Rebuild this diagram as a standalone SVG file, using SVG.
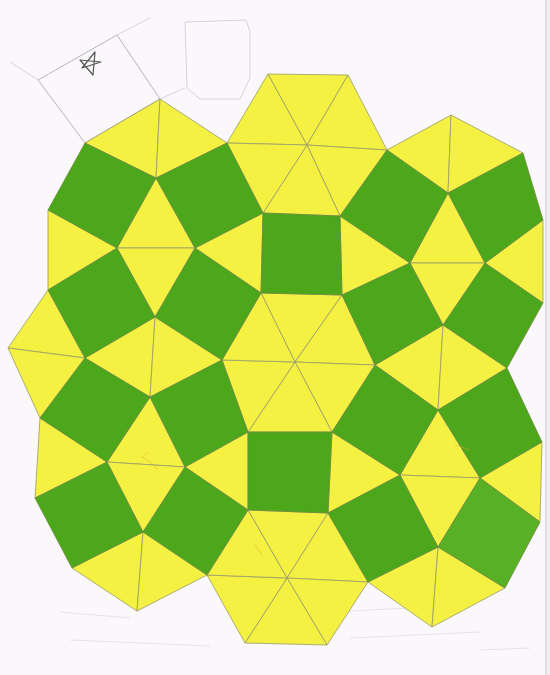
<svg xmlns="http://www.w3.org/2000/svg" width="550" height="675" viewBox="0 0 550 675">
<style>
.y{fill:#f4f142;stroke:#9b9a6a;stroke-width:0.8;stroke-linejoin:round}
.g{fill:#4ca71b;stroke:#6f8a3a;stroke-width:0.8;stroke-linejoin:round}
.g2{fill:#58b024;stroke:#6f8a3a;stroke-width:0.8;stroke-linejoin:round}
.faint{fill:none;stroke:#d6d2e2;stroke-width:1}
.pen{fill:none;stroke:#a4a2b2;stroke-width:0.8}
.orange{fill:none;stroke:#e0a040;stroke-width:0.8;opacity:0.6}
</style>
<rect width="550" height="675" fill="#fbf8fb"/>
<rect x="546" y="0" width="4" height="675" fill="#f1f1f4"/>
<line x1="546" y1="0" x2="546" y2="675" stroke="#c4c6cf" stroke-width="1"/>

<g id="sketch">
<polygon class="pen" points="38,80 117,35 160,99 85,143"/>
<path class="faint" d="M185,22 L246,20 L250,32 L250,78 L240,99 L200,99 L187,88 Z"/>
<path class="faint" d="M117,35 L150,18 M38,80 L10,62 M160,99 L185,88"/>
<path d="M82,68 L95,52 L93,75 L80,60 L101,62 Z" fill="none" stroke="#555" stroke-width="1.2" stroke-linejoin="round"/>
<path class="faint" d="M60,612 L130,618 M70,640 L210,646 M330,612 L470,605 M350,638 L480,632 M480,650 L530,648" opacity="0.6"/>
</g>

<g id="triangles">
<polygon class="y" points="85,143 160,99 156,178"/>
<polygon class="y" points="160,99 227,143 156,178"/>
<polygon class="y" points="156,178 117,248 195,248"/>
<polygon class="y" points="117,248 195,248 155,317"/>
<polygon class="y" points="48,210 117,248 48,290"/>
<polygon class="y" points="195,248 263,213 261,293"/>
<polygon class="y" points="307,145 227,143 268,74"/>
<polygon class="y" points="307,145 268,74 348,75"/>
<polygon class="y" points="307,145 348,75 387,150"/>
<polygon class="y" points="307,145 387,150 340,216"/>
<polygon class="y" points="307,145 340,216 263,213"/>
<polygon class="y" points="307,145 263,213 227,143"/>
<polygon class="y" points="387,150 451,115 448,193"/>
<polygon class="y" points="451,115 523,153 448,193"/>
<polygon class="y" points="448,193 485,263 410,263"/>
<polygon class="y" points="340,216 410,263 342,295"/>
<polygon class="y" points="410,263 485,263 443,325"/>
<polygon class="y" points="543,220 485,263 543,303"/>
<polygon class="y" points="48,290 85,358 8,348"/>
<polygon class="y" points="8,348 85,358 40,418"/>
<polygon class="y" points="155,317 85,358 150,397"/>
<polygon class="y" points="155,317 222,360 150,397"/>
<polygon class="y" points="295,362 261,293 342,295"/>
<polygon class="y" points="295,362 342,295 375,365"/>
<polygon class="y" points="295,362 375,365 332,432"/>
<polygon class="y" points="295,362 332,432 248,432"/>
<polygon class="y" points="295,362 248,432 222,360"/>
<polygon class="y" points="295,362 222,360 261,293"/>
<polygon class="y" points="375,365 443,325 438,410"/>
<polygon class="y" points="443,325 507,368 438,410"/>
<polygon class="y" points="150,397 185,467 107,462"/>
<polygon class="y" points="107,462 185,467 143,532"/>
<polygon class="y" points="40,418 107,462 35,498"/>
<polygon class="y" points="248,432 185,467 248,510"/>
<polygon class="y" points="332,432 400,475 328,513"/>
<polygon class="y" points="438,410 480,478 400,475"/>
<polygon class="y" points="400,475 480,478 438,547"/>
<polygon class="y" points="542,442 480,478 540,522"/>
<polygon class="y" points="72,568 143,532 137,611"/>
<polygon class="y" points="143,532 207,575 137,611"/>
<polygon class="y" points="287,578 248,510 328,513"/>
<polygon class="y" points="287,578 328,513 368,582"/>
<polygon class="y" points="287,578 368,582 327,645"/>
<polygon class="y" points="287,578 327,645 245,643"/>
<polygon class="y" points="287,578 245,643 207,575"/>
<polygon class="y" points="287,578 207,575 248,510"/>
<polygon class="y" points="368,582 438,547 432,627"/>
<polygon class="y" points="438,547 505,588 432,627"/>
</g>

<g id="squares">
<polygon class="g" points="85,143 156,178 117,248 48,210"/>
<polygon class="g" points="156,178 227,143 263,213 195,248"/>
<polygon class="g" points="263,213 340,216 342,295 261,293"/>
<polygon class="g" points="387,150 448,193 410,263 340,216"/>
<polygon class="g" points="448,193 523,153 543,220 485,263"/>
<polygon class="g" points="48,290 117,248 155,317 85,358"/>
<polygon class="g" points="195,248 261,293 222,360 155,317"/>
<polygon class="g" points="342,295 410,263 443,325 375,365"/>
<polygon class="g" points="485,263 543,303 507,368 443,325"/>
<polygon class="g" points="85,358 150,397 107,462 40,418"/>
<polygon class="g" points="150,397 222,360 248,432 185,467"/>
<polygon class="g" points="375,365 438,410 400,475 332,432"/>
<polygon class="g" points="438,410 507,368 542,442 480,478"/>
<polygon class="g" points="35,498 107,462 143,532 72,568"/>
<polygon class="g" points="185,467 248,510 207,575 143,532"/>
<polygon class="g" points="248,432 332,432 328,513 248,510"/>
<polygon class="g" points="400,475 438,547 368,582 328,513"/>
<polygon class="g2" points="480,478 540,522 505,588 438,547"/>
</g>

<g id="marks">
<path class="orange" d="M142,457 L150,462 L158,470 M148,452 L142,457"/>
<path class="orange" d="M255,545 L262,555 M455,445 L470,450"/>
</g>
</svg>
